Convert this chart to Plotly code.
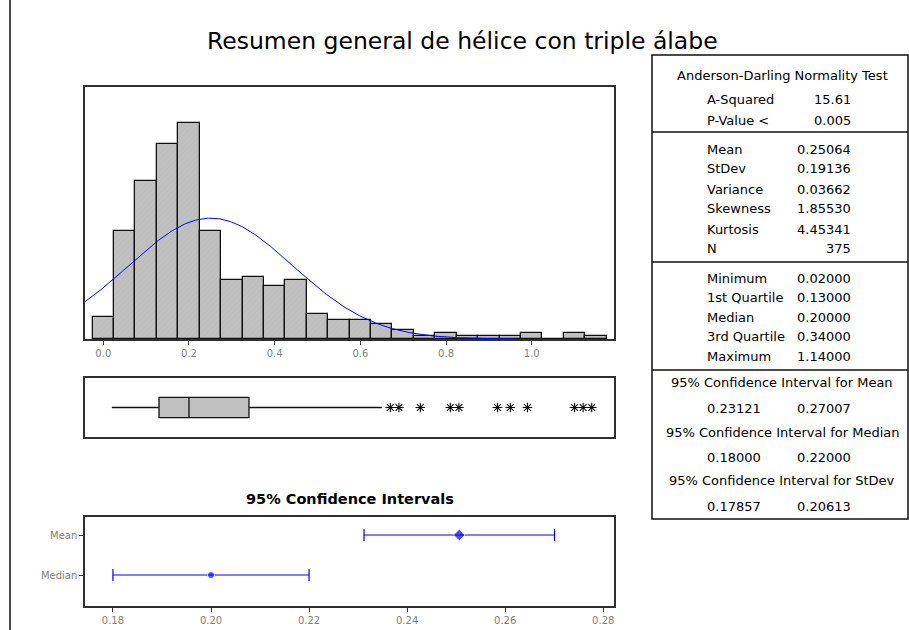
import numpy as np
import plotly.graph_objects as go

W, H = 909, 630

def px(x):
    return x / W

def py(y):
    return 1 - y / H

# ---------------- data ----------------
title_text = "Resumen general de hélice con triple álabe"

bin_centers = [0.00, 0.05, 0.10, 0.15, 0.20, 0.25, 0.30, 0.35, 0.40, 0.45, 0.50, 0.55,
               0.60, 0.65, 0.70, 0.75, 0.80, 0.85, 0.90, 0.95, 1.00, 1.05, 1.10, 1.15]
bin_counts = [7, 35, 51, 63, 70, 35, 19, 20, 17, 19, 8, 6,
              6, 5, 3, 1, 2, 1, 1, 1, 2, 0, 2, 1]
bin_width = 0.05

mean_val = 0.25064
stdev_val = 0.19136
n_obs = 375
curve_start = -0.0427
curve_end = 0.96

box_min = 0.02
box_q1 = 0.13
box_median = 0.20
box_q3 = 0.34
box_upper_whisker = 0.65
box_outliers = [0.67, 0.69, 0.74, 0.81, 0.83, 0.92, 0.95, 0.99, 1.10, 1.12, 1.14]

hist_ticks = [0.0, 0.2, 0.4, 0.6, 0.8, 1.0]

ci_labels = ["Mean", "Median"]
ci_center = [0.25064, 0.20]
ci_low = [0.23121, 0.18]
ci_high = [0.27007, 0.22]
ci_ticks = [0.18, 0.20, 0.22, 0.24, 0.26, 0.28]
ci_title = "95% Confidence Intervals"

ad_title = "Anderson-Darling Normality Test"
ad_labels = ["A-Squared", "P-Value <"]
ad_values = ["15.61", "0.005"]
desc_labels = ["Mean", "StDev", "Variance", "Skewness", "Kurtosis", "N"]
desc_values = ["0.25064", "0.19136", "0.03662", "1.85530", "4.45341", "375"]
quant_labels = ["Minimum", "1st Quartile", "Median", "3rd Quartile", "Maximum"]
quant_values = ["0.02000", "0.13000", "0.20000", "0.34000", "1.14000"]
ci_table_titles = ["95% Confidence Interval for Mean",
                   "95% Confidence Interval for Median",
                   "95% Confidence Interval for StDev"]
ci_table_low = ["0.23121", "0.18000", "0.17857"]
ci_table_high = ["0.27007", "0.22000", "0.20613"]

# ---------------- style ----------------
FONT = "DejaVu Sans"
GRAY = "#808080"
FRAME = "#303030"
BAR_FILL = "#c0c0c0"
BLUE = "#0000ff"
INK = "#111111"

fig = go.Figure()

# histogram
fig.add_trace(go.Bar(
    x=bin_centers, y=bin_counts, width=bin_width,
    marker=dict(color=BAR_FILL, line=dict(color=INK, width=1.3),
                pattern=dict(shape="/", fgcolor="#b4b4b4", size=4, solidity=0.2,
                             fillmode="overlay")),
    xaxis="x", yaxis="y", showlegend=False, hoverinfo="skip"))

# fitted normal curve from mean / stdev / N
cx = np.linspace(curve_start, curve_end, 300)
cy = n_obs * bin_width / (stdev_val * np.sqrt(2 * np.pi)) * np.exp(-0.5 * ((cx - mean_val) / stdev_val) ** 2)
fig.add_trace(go.Scatter(x=cx, y=cy, mode="lines", line=dict(color=BLUE, width=1),
                         xaxis="x", yaxis="y", showlegend=False, hoverinfo="skip"))

# boxplot
fig.add_trace(go.Box(
    orientation="h", y=[0], q1=[box_q1], median=[box_median], q3=[box_q3],
    lowerfence=[box_min], upperfence=[box_upper_whisker],
    fillcolor=BAR_FILL, line=dict(color=INK, width=1.3),
    whiskerwidth=0, width=0.68, boxpoints=False,
    xaxis="x2", yaxis="y2", showlegend=False, hoverinfo="skip"))
fig.add_trace(go.Scatter(
    x=box_outliers, y=[0] * len(box_outliers), mode="markers",
    marker=dict(symbol="asterisk-open", size=8, color=INK, line=dict(color=INK, width=1.1)),
    xaxis="x2", yaxis="y2", showlegend=False, hoverinfo="skip"))

# confidence intervals
fig.add_trace(go.Scatter(
    x=ci_center, y=ci_labels, mode="markers",
    marker=dict(symbol=["diamond", "circle"], size=[9, 7], color=BLUE),
    error_x=dict(type="data", symmetric=False,
                 array=[h - c for h, c in zip(ci_high, ci_center)],
                 arrayminus=[c - l for c, l in zip(ci_center, ci_low)],
                 color=BLUE, thickness=1.2, width=6),
    xaxis="x3", yaxis="y3", showlegend=False, hoverinfo="skip"))

frame = dict(showline=True, mirror=True, linecolor=FRAME, linewidth=1.5,
             showgrid=False, zeroline=False)
tickfont = dict(family=FONT, size=10, color=GRAY)

fig.update_layout(
    width=W, height=H,
    margin=dict(l=0, r=0, t=0, b=0),
    paper_bgcolor="white", plot_bgcolor="white",
    bargap=0,
    font=dict(family=FONT, color="black"),
    xaxis=dict(domain=[px(85), px(614)], anchor="y", range=[-0.0427, 1.192],
               tickvals=hist_ticks, ticktext=[f"{t:.1f}" for t in hist_ticks],
               ticks="outside", ticklen=4, tickcolor=FRAME, tickfont=tickfont, **frame),
    yaxis=dict(domain=[py(339), py(87)], anchor="x", range=[0, 81.5],
               showticklabels=False, ticks="", **frame),
    xaxis2=dict(domain=[px(85), px(614)], anchor="y2", range=[-0.0427, 1.192],
                showticklabels=False, ticks="", **frame),
    yaxis2=dict(domain=[py(437), py(378)], anchor="x2", range=[-1, 1],
                showticklabels=False, ticks="", **frame),
    xaxis3=dict(domain=[px(85), px(614)], anchor="y3", range=[0.1743, 0.2822],
                tickvals=ci_ticks, ticktext=[f"{t:.2f}" for t in ci_ticks],
                ticks="outside", ticklen=4, tickcolor=FRAME, tickfont=tickfont, **frame),
    yaxis3=dict(domain=[py(606), py(517)], anchor="x3", type="category",
                categoryorder="array", categoryarray=["Median", "Mean"],
                range=[-0.775, 1.45], ticks="outside", ticklen=4, tickcolor=FRAME,
                tickfont=dict(family=FONT, size=10, color=GRAY), **frame),
)

shapes = []
# left page edge line
shapes.append(dict(type="line", xref="paper", yref="paper", x0=px(10), x1=px(10),
                   y0=0, y1=1, line=dict(color=INK, width=1.5)))
# stats table frame and dividers
shapes.append(dict(type="rect", xref="paper", yref="paper", x0=px(652), x1=px(908),
                   y0=py(519), y1=py(55), line=dict(color=INK, width=1.5)))
for yy in [132, 262, 370]:
    shapes.append(dict(type="line", xref="paper", yref="paper", x0=px(652), x1=px(908),
                       y0=py(yy), y1=py(yy), line=dict(color=INK, width=1.5)))

ann = []
def text(x, y, s, anchor="left", size=12, bold=False, color="black"):
    ann.append(dict(x=px(x), y=py(y), xref="paper", yref="paper", text=(f"<b>{s}</b>" if bold else s),
                    showarrow=False, xanchor=anchor, yanchor="middle",
                    font=dict(family=FONT, size=size, color=color)))

text(462, 41, title_text, anchor="center", size=23.5)
text(350, 499, ci_title, anchor="center", size=14.5, bold=True)

LX, VX = 705, 853
TS = 13
text(782, 75, ad_title, anchor="center", size=TS)
for i, (l, v) in enumerate(zip(ad_labels, ad_values)):
    yy = 99 + 21 * i
    text(LX, yy, l, size=TS)
    text(VX, yy, v, anchor="right", size=TS)
for i, (l, v) in enumerate(zip(desc_labels, desc_values)):
    yy = 149 + 20 * i
    text(LX, yy, l, size=TS)
    text(VX, yy, v, anchor="right", size=TS)
for i, (l, v) in enumerate(zip(quant_labels, quant_values)):
    yy = 278 + 19.6 * i
    text(LX, yy, l, size=TS)
    text(VX, yy, v, anchor="right", size=TS)
for i, (t, lo, hi) in enumerate(zip(ci_table_titles, ci_table_low, ci_table_high)):
    yy = 383 + 49 * i
    text(782, yy, t, anchor="center", size=TS)
    text(LX, yy + 25, lo, size=TS)
    text(VX, yy + 25, hi, anchor="right", size=TS)

fig.update_layout(shapes=shapes, annotations=ann)

fig.write_html("out.html", config={"displayModeBar": False},
               post_script="document.body.style.margin='0px';")
